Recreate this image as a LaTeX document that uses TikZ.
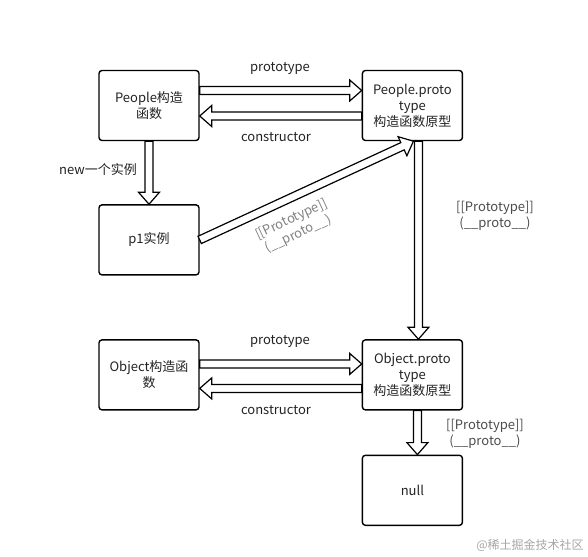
\documentclass[tikz,border=0pt]{standalone}
\usepackage{fontspec}
\setmainfont{Noto Sans CJK SC}
\usepackage{tikz}
\usetikzlibrary{calc, positioning}
\definecolor{box-text}{RGB}{34,34,34}
\colorlet{label-grey}{black!70}
\colorlet{label-light}{black!50}
\tikzset{%
    obj/.style={%
        rectangle,
        draw=black, line width=1.4pt,
        minimum width=100pt,
        minimum height=70pt,
        rounded corners=3pt,
        text=box-text,
        font=\fontsize{13}{16}\selectfont,
        align=center,
    },
    lbl/.style={%
        text=box-text,
        font=\fontsize{13}{16}\selectfont,
        align=center,
    },
    fatarrow/.style={%
        draw=black, line width=1.2pt,
        fill=white,
        line join=miter,
        to path={%
            let \p1=(\tikztostart), \p2=(\tikztotarget),
                \n1={atan2(\y2-\y1,\x2-\x1)} in
            ($(\p1)+(\n1+90:4pt)$)
            -- ($(\p2)+(\n1+180:12pt)+(\n1+90:4pt)$)
            -- ($(\p2)+(\n1+180:12pt)+(\n1+90:10.5pt)$)
            -- (\p2)
            -- ($(\p2)+(\n1+180:12pt)+(\n1-90:10.5pt)$)
            -- ($(\p2)+(\n1+180:12pt)+(\n1-90:4pt)$)
            -- ($(\p1)+(\n1-90:4pt)$)
            -- cycle
        },
    },
}

\begin{document}
\begin{tikzpicture}[x=1pt, y=-1pt]
  \useasboundingbox (0,0) rectangle (588,556);

  \node [obj,] at (149,105.5) (people_ctor) {People构造\\函数};
  \node [obj, right=162pt of people_ctor] (people_proto) {People.proto\\type\\构造函数原型};
  \node [obj, below=63pt of people_ctor] (p1_inst) {p1实例};
  \node [obj, below=198pt of people_proto] (object_proto) {Object.proto\\type\\构造函数原型};
  \node [obj, left=162pt of object_proto] (object_ctor) {Object构造函\\数};
  \node [obj, below=44pt of object_proto] (null_box) {null};

  \draw[fatarrow] ([yshift=15pt]people_ctor.east) to ([yshift=15pt]people_proto.west);
  \draw[fatarrow] ([yshift=-10.5pt]people_proto.west) to ([yshift=-10.5pt]people_ctor.east);
  \draw[fatarrow] (people_ctor.south) to (p1_inst.north);
  \draw[fatarrow] ([xshift=6pt]people_proto.south) to ([xshift=6pt]object_proto.north);
  \draw[fatarrow] (p1_inst.east) to ([xshift=1pt]people_proto.south);

  \draw[fatarrow] ([yshift=11pt]object_ctor.east) to ([yshift=11pt]object_proto.west);
  \draw[fatarrow] ([yshift=-13.5pt]object_proto.west) to ([yshift=-13.5pt]object_ctor.east);
  \draw[fatarrow] ([xshift=5pt]object_proto.south) to ([xshift=5pt]null_box.north);

  \node [lbl] at (280,68) (lbl_proto1) {prototype};
  \node [lbl] at (276,137) (lbl_ctor1) {constructor};
  \node [lbl] at (98,170) (lbl_new) {new一个实例};
  \node [lbl, text=label-light, rotate=25] at (295,227) (lbl_diag) {[[Prototype]]\\(\_\_proto\_\_)};
  \node [lbl, text=label-grey] at (495,216) (lbl_right1) {[[Prototype]]\\(\_\_proto\_\_)};
  \node [lbl] at (280,341) (lbl_proto2) {prototype};
  \node [lbl] at (276,410) (lbl_ctor2) {constructor};
  \node [lbl, text=label-grey] at (485,434) (lbl_right2) {[[Prototype]]\\(\_\_proto\_\_)};

  \node [lbl, text=black!35, font=\fontsize{12}{14}\selectfont] at (530,545) (mark) {@稀土掘金技术社区};
\end{tikzpicture}
\end{document}
